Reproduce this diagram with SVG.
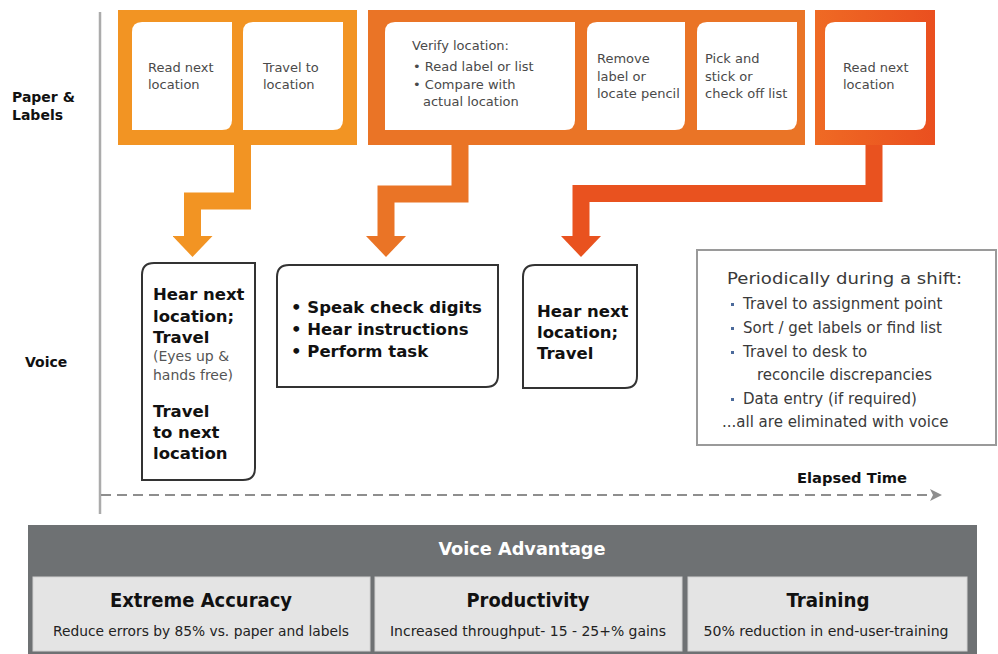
<svg xmlns="http://www.w3.org/2000/svg" width="998" height="654" viewBox="0 0 998 654">
  <style>
    .lane { font-family: "DejaVu Sans", Verdana, sans-serif; font-weight: bold; font-size: 14px; fill: #111; }
    .step { font-family: "DejaVu Sans", Verdana, sans-serif; font-size: 13px; fill: #4a4a4a; }
    .inner { fill: #ffffff; }
    .vbox { fill: #ffffff; stroke: #333; stroke-width: 2; }
    .vtxt { font-family: "DejaVu Sans", Verdana, sans-serif; font-weight: bold; font-size: 16.5px; fill: #111; }
    .vsmall { font-family: "DejaVu Sans", Verdana, sans-serif; font-size: 14px; fill: #555; }
    .ptxt { font-family: "DejaVu Sans", Verdana, sans-serif; font-size: 15px; fill: #3a3a3a; }
    .dot { fill: #4b6a9b; }
    .pan-title { font-family: "DejaVu Sans Condensed", "DejaVu Sans", sans-serif; font-weight: bold; font-size: 19px; fill: #111; text-anchor: middle; }
    .pan-sub { font-family: "DejaVu Sans Condensed", "DejaVu Sans", sans-serif; font-size: 14px; fill: #222; text-anchor: middle; }
    .cell { fill: #e4e4e4; stroke: #d2d2d2; stroke-width: 1; }
    .flow { fill: none; stroke-width: 17; stroke-linejoin: miter; stroke-linecap: butt; }
  </style>
  <defs>
    <marker id="head1" markerUnits="userSpaceOnUse" viewBox="0 0 21 40" refX="0" refY="20" markerWidth="21" markerHeight="40" orient="auto">
      <path d="M0,0 L21,20 L0,40 Z" fill="#F29423"/>
    </marker>
    <marker id="head2" markerUnits="userSpaceOnUse" viewBox="0 0 21 40" refX="0" refY="20" markerWidth="21" markerHeight="40" orient="auto">
      <path d="M0,0 L21,20 L0,40 Z" fill="#EA7426"/>
    </marker>
    <marker id="head3" markerUnits="userSpaceOnUse" viewBox="0 0 21 40" refX="0" refY="20" markerWidth="21" markerHeight="40" orient="auto">
      <path d="M0,0 L21,20 L0,40 Z" fill="#E9521F"/>
    </marker>
    <marker id="timeHead" markerUnits="userSpaceOnUse" viewBox="0 0 12 12" refX="2" refY="6" markerWidth="12" markerHeight="12" orient="auto">
      <path d="M0,0 L12,6 L0,12 L3,6 Z" fill="#8e8e8e"/>
    </marker>
    <linearGradient id="redFrame" x1="0" y1="0" x2="1" y2="0">
      <stop offset="0" stop-color="#EF6A24"/>
      <stop offset="1" stop-color="#EA4F1F"/>
    </linearGradient>
  </defs>

  <rect width="998" height="654" fill="#ffffff"/>

  <!-- lane labels and axis -->
  <g id="lanes">
    <line x1="100" y1="12" x2="100" y2="514" stroke="#ababab" stroke-width="2.5"/>
    <text class="lane" x="12" y="102">Paper &amp;</text>
    <text class="lane" x="12" y="120">Labels</text>
    <text class="lane" x="25" y="367">Voice</text>
  </g>

  <!-- paper step group 1 -->
  <g id="paper-read-travel">
    <rect x="118" y="10" width="239" height="135" fill="#F29423"/>
    <path class="inner" d="M142,22 H232 V120 Q232,130 222,130 H132 V32 Q132,22 142,22 Z"/>
    <path class="inner" d="M253,22 H343 V120 Q343,130 333,130 H243 V32 Q243,22 253,22 Z"/>
    <text class="step" x="148" y="72">Read next</text>
    <text class="step" x="148" y="89">location</text>
    <text class="step" x="263" y="72">Travel to</text>
    <text class="step" x="263" y="89">location</text>
  </g>

  <!-- paper step group 2 -->
  <g id="paper-verify-pick">
    <rect x="368" y="10" width="437" height="135" fill="#EA7426"/>
    <path class="inner" d="M395,22 H575 V120 Q575,130 565,130 H385 V32 Q385,22 395,22 Z"/>
    <path class="inner" d="M597,22 H685 V120 Q685,130 675,130 H587 V32 Q587,22 597,22 Z"/>
    <path class="inner" d="M707,22 H797 V120 Q797,130 787,130 H697 V32 Q697,22 707,22 Z"/>
    <text class="step" x="412" y="50">Verify location:</text>
    <text class="step" x="413" y="71">• Read label or list</text>
    <text class="step" x="413" y="89">• Compare with</text>
    <text class="step" x="423" y="106">actual location</text>
    <text class="step" x="597" y="63">Remove</text>
    <text class="step" x="597" y="81">label or</text>
    <text class="step" x="597" y="98">locate pencil</text>
    <text class="step" x="705" y="63">Pick and</text>
    <text class="step" x="705" y="81">stick or</text>
    <text class="step" x="705" y="98">check off list</text>
  </g>

  <!-- paper step group 3 -->
  <g id="paper-read-next">
    <rect x="815" y="10" width="120" height="135" fill="url(#redFrame)"/>
    <path class="inner" d="M835,22 H926 V120 Q926,130 916,130 H825 V32 Q825,22 835,22 Z"/>
    <text class="step" x="843" y="72">Read next</text>
    <text class="step" x="843" y="89">location</text>
  </g>

  <!-- connectors from paper steps to voice steps -->
  <g id="connectors">
    <path class="flow" stroke="#F29423" d="M242.5,145 V201 H192.5 V236" marker-end="url(#head1)"/>
    <path class="flow" stroke="#EA7426" d="M460,145 V194 H386 V236" marker-end="url(#head2)"/>
    <path class="flow" stroke="#E9521F" d="M874,145 V193.5 H581 V236" marker-end="url(#head3)"/>
    <line x1="101" y1="495" x2="932" y2="495" stroke="#8e8e8e" stroke-width="2" stroke-dasharray="10 6" marker-end="url(#timeHead)"/>
  </g>

  <!-- voice steps -->
  <g id="voice-hear-travel">
    <path class="vbox" d="M154,263 H255 V468 Q255,480 243,480 H142 V275 Q142,263 154,263 Z"/>
    <text class="vtxt" x="153" y="300">Hear next</text>
    <text class="vtxt" x="153" y="322">location;</text>
    <text class="vtxt" x="153" y="343">Travel</text>
    <text class="vsmall" x="153" y="361">(Eyes up &amp;</text>
    <text class="vsmall" x="153" y="380">hands free)</text>
    <text class="vtxt" x="153" y="417">Travel</text>
    <text class="vtxt" x="153" y="438">to next</text>
    <text class="vtxt" x="153" y="459">location</text>
  </g>

  <g id="voice-check-digits">
    <path class="vbox" d="M289,265 H498 V375 Q498,387 486,387 H277 V277 Q277,265 289,265 Z"/>
    <text class="vtxt" x="291" y="313">• Speak check digits</text>
    <text class="vtxt" x="291" y="335">• Hear instructions</text>
    <text class="vtxt" x="291" y="357">• Perform task</text>
  </g>

  <g id="voice-hear-next">
    <path class="vbox" d="M535,265 H637 V376 Q637,388 625,388 H523 V277 Q523,265 535,265 Z"/>
    <text class="vtxt" x="537" y="317">Hear next</text>
    <text class="vtxt" x="537" y="338">location;</text>
    <text class="vtxt" x="537" y="359">Travel</text>
  </g>

  <g id="periodic-tasks">
    <rect x="697" y="250" width="299" height="195" fill="#ffffff" stroke="#9a9a9a" stroke-width="2"/>
    <text class="ptxt" x="727" y="284" font-size="18.5" textLength="235" lengthAdjust="spacingAndGlyphs">Periodically during a shift:</text>
    <rect class="dot" x="731" y="303" width="3" height="3"/>
    <text class="ptxt" x="743" y="309">Travel to assignment point</text>
    <rect class="dot" x="731" y="327" width="3" height="3"/>
    <text class="ptxt" x="743" y="333">Sort / get labels or find list</text>
    <rect class="dot" x="731" y="351" width="3" height="3"/>
    <text class="ptxt" x="743" y="357">Travel to desk to</text>
    <text class="ptxt" x="757" y="380">reconcile discrepancies</text>
    <rect class="dot" x="731" y="398" width="3" height="3"/>
    <text class="ptxt" x="743" y="404">Data entry (if required)</text>
    <text class="ptxt" x="722" y="427">...all are eliminated with voice</text>
  </g>

  <g id="elapsed-time">
    <text class="lane" x="797" y="483" font-size="15" textLength="110" lengthAdjust="spacingAndGlyphs">Elapsed Time</text>
  </g>

  <!-- summary panel -->
  <g id="voice-advantage">
    <rect x="28" y="525" width="949" height="129" fill="#6e7173"/>
    <text x="522" y="555" text-anchor="middle" font-family="'DejaVu Sans Condensed', 'DejaVu Sans', sans-serif" font-weight="bold" font-size="17" fill="#ffffff" textLength="167" lengthAdjust="spacingAndGlyphs">Voice Advantage</text>
    <rect class="cell" x="33" y="577" width="337" height="74"/>
    <rect class="cell" x="375" y="577" width="307" height="74"/>
    <rect class="cell" x="688" y="577" width="279" height="74"/>
    <text class="pan-title" x="201" y="607" textLength="182" lengthAdjust="spacingAndGlyphs">Extreme Accuracy</text>
    <text class="pan-sub" x="201" y="636" textLength="296" lengthAdjust="spacingAndGlyphs">Reduce errors by 85% vs. paper and labels</text>
    <text class="pan-title" x="528" y="607" textLength="123" lengthAdjust="spacingAndGlyphs">Productivity</text>
    <text class="pan-sub" x="528" y="636" textLength="276" lengthAdjust="spacingAndGlyphs">Increased throughput- 15 - 25+% gains</text>
    <text class="pan-title" x="828" y="607" textLength="83" lengthAdjust="spacingAndGlyphs">Training</text>
    <text class="pan-sub" x="826" y="636" textLength="245" lengthAdjust="spacingAndGlyphs">50% reduction in end-user-training</text>
  </g>
</svg>
